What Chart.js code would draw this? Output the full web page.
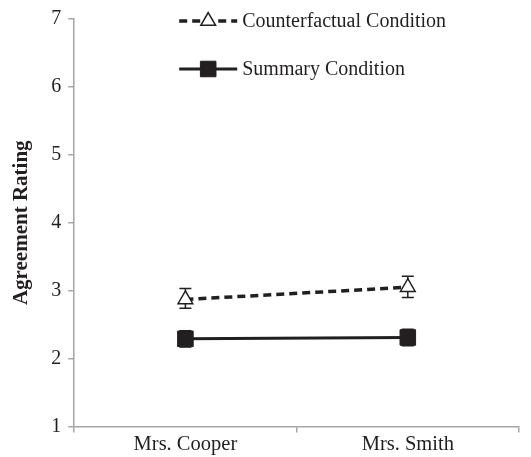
<!DOCTYPE html>
<html>
<head>
<meta charset="utf-8">
<script src="https://cdn.jsdelivr.net/npm/chart.js@4"></script>
<style>
  html, body { margin: 0; padding: 0; background: #fff; }
  #chartCanvas { display: block; }
</style>
</head>
<body>
<canvas id="chartCanvas" width="531" height="457"></canvas>
<script>
var categories = ['Mrs. Cooper', 'Mrs. Smith'];
var counterfactualValues = [2.87, 3.05];
var counterfactualLow = [2.74, 2.90];
var counterfactualHigh = [3.03, 3.21];
var summaryValues = [2.29, 2.31];
var summaryLow = [2.17, 2.19];
var summaryHigh = [2.41, 2.43];
var yTicks = [1, 2, 3, 4, 5, 6, 7];

var ink = '#231f20';
var axisGrey = '#a6a6a6';
var serif = '"Liberation Serif", "Times New Roman", serif';

var errorBarPlugin = {
  id: 'errorBars',
  beforeDatasetsDraw: function (chart) {
    var ctx = chart.ctx;
    var y = chart.scales.y;
    chart.data.datasets.forEach(function (ds, i) {
      var meta = chart.getDatasetMeta(i);
      ctx.save();
      ctx.strokeStyle = ink;
      ctx.lineWidth = 1.5;
      meta.data.forEach(function (pt, j) {
        var top = y.getPixelForValue(ds.errHigh[j]);
        var bot = y.getPixelForValue(ds.errLow[j]);
        ctx.beginPath();
        ctx.moveTo(pt.x, top); ctx.lineTo(pt.x, bot);
        ctx.moveTo(pt.x - 6, top); ctx.lineTo(pt.x + 6, top);
        ctx.moveTo(pt.x - 6, bot); ctx.lineTo(pt.x + 6, bot);
        ctx.stroke();
      });
      ctx.restore();
    });
  }
};

// legend drawn inside the plot: line sample + marker + label
var legendPlugin = {
  id: 'sampleLegend',
  afterDraw: function (chart) {
    var ctx = chart.ctx;
    var area = chart.chartArea;
    var x0 = area.left + 105;
    var rows = [area.top + 2, area.top + 50];
    ctx.save();
    ctx.font = '20px ' + serif;
    ctx.textBaseline = 'middle';
    chart.data.datasets.forEach(function (ds, i) {
      var yy = rows[i];
      ctx.strokeStyle = ink;
      ctx.lineWidth = ds.borderWidth;
      ctx.setLineDash(ds.borderDash || []);
      ctx.beginPath();
      ctx.moveTo(x0, yy); ctx.lineTo(x0 + 58, yy);
      ctx.stroke();
      ctx.setLineDash([]);
      ctx.fillStyle = ds.pointBackgroundColor;
      ctx.strokeStyle = ds.pointBorderColor;
      ctx.lineWidth = ds.pointBorderWidth;
      Chart.helpers.drawPoint(ctx, {
        pointStyle: ds.pointStyle,
        radius: ds.pointRadius,
        borderWidth: ds.pointBorderWidth
      }, x0 + 29, yy);
      ctx.fillStyle = ink;
      ctx.fillText(ds.label, x0 + 63, yy + 1);
    });
    ctx.restore();
  }
};

function drawChart() {
  var ctx = document.getElementById('chartCanvas').getContext('2d');

  new Chart(ctx, {
    type: 'line',
    data: {
      labels: categories,
      datasets: [{
        label: 'Counterfactual Condition',
        data: counterfactualValues,
        errLow: counterfactualLow,
        errHigh: counterfactualHigh,
        borderColor: ink,
        borderWidth: 3.5,
        borderDash: [8, 5],
        pointStyle: 'triangle',
        pointRadius: 8.5,
        pointBorderWidth: 1.5,
        pointBackgroundColor: '#ffffff',
        pointBorderColor: ink,
        fill: false
      }, {
        label: 'Summary Condition',
        data: summaryValues,
        errLow: summaryLow,
        errHigh: summaryHigh,
        borderColor: ink,
        borderWidth: 3,
        pointStyle: 'rect',
        pointRadius: 11,
        pointBorderWidth: 1,
        pointBackgroundColor: ink,
        pointBorderColor: ink,
        fill: false
      }]
    },
    options: {
      responsive: false,
      animation: false,
      layout: { padding: { top: 6, right: 1, left: 9, bottom: 0 } },
      plugins: {
        legend: { display: false },
        tooltip: { enabled: false }
      },
      scales: {
        x: {
          offset: true,
          grid: {
            offset: true,
            drawOnChartArea: false,
            drawTicks: true,
            tickLength: 6,
            color: axisGrey,
            lineWidth: 1.5
          },
          border: { color: axisGrey, width: 1.5 },
          ticks: {
            color: ink,
            font: { family: serif, size: 20.5, lineHeight: 1.1 },
            padding: 1
          }
        },
        y: {
          min: 1,
          max: 7,
          afterBuildTicks: function (scale) {
            scale.ticks = yTicks.map(function (v) { return { value: v }; });
          },
          grid: {
            drawOnChartArea: false,
            drawTicks: true,
            tickLength: 6,
            color: axisGrey,
            lineWidth: 1.5
          },
          border: { color: axisGrey, width: 1.5 },
          ticks: {
            color: ink,
            font: { family: serif, size: 20 },
            padding: 7
          },
          title: {
            display: true,
            text: 'Agreement Rating',
            color: ink,
            font: { family: serif, size: 21, weight: 'bold' },
            padding: { top: 0, bottom: 10 }
          }
        }
      }
    },
    plugins: [errorBarPlugin, legendPlugin]
  });
}

document.addEventListener('DOMContentLoaded', drawChart);
</script>
</body>
</html>
